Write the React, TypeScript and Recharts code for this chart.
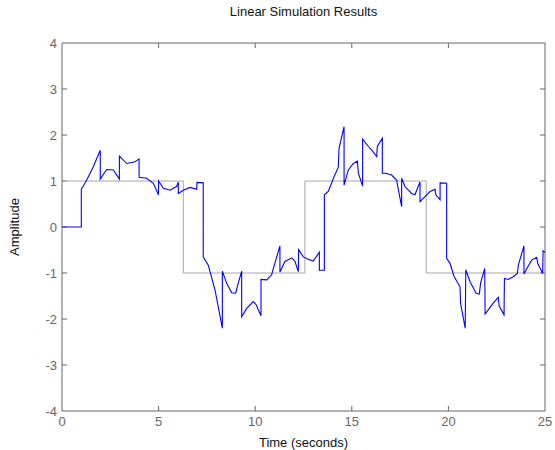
import React from 'react';
import { LineChart, Line, XAxis, YAxis, ReferenceLine } from 'recharts';

// Square-wave input driving the system
const inputTime = [0, 6.28, 6.28, 12.57, 12.57, 18.85, 18.85, 25];
const inputAmp = [1, 1, -1, -1, 1, 1, -1, -1];

// Simulated response, one row per segment between jumps
const responseTime = [
  0, 1,
  1, 1.28, 1.62, 1.98,
  1.98, 2.31, 2.66, 2.97,
  2.97, 3.35, 3.78, 3.99,
  3.99, 4.38, 4.73, 4.99,
  5.0, 5.25, 5.59, 5.93, 6.02,
  6.02, 6.28, 6.63, 6.97,
  6.99, 7.31,
  7.31, 7.57, 7.92, 8.3,
  8.3, 8.52, 8.78, 8.99, 9.07, 9.3,
  9.3, 9.56, 9.9, 10.07, 10.13, 10.3,
  10.3, 10.6, 10.85, 10.94, 11.28,
  11.28, 11.54, 11.89, 12.06, 12.23,
  12.25, 12.49, 12.75, 13.0, 13.32,
  13.32, 13.58,
  13.58, 13.79, 14.05, 14.3, 14.34, 14.6,
  14.6, 14.82, 15.08, 15.29, 15.34, 15.56,
  15.56, 15.86, 16.03, 16.29, 16.32, 16.58,
  16.58, 16.75, 17.06, 17.32, 17.4, 17.58,
  17.58, 17.75, 18.1, 18.27, 18.36, 18.53,
  18.53, 18.79, 19.05, 19.31, 19.35, 19.57,
  19.57, 19.91,
  19.91, 20.08, 20.29, 20.6, 20.63, 20.87,
  20.9, 21.12, 21.3, 21.43, 21.6, 21.67, 21.88,
  21.9, 22.12, 22.29, 22.58, 22.63, 22.88,
  22.9, 23.1, 23.36, 23.57, 23.62, 23.91,
  23.91, 24.09, 24.31, 24.57, 24.63, 24.88,
  24.9, 25.0,
];
const responseAmp = [
  0, 0,
  0.82, 1.02, 1.31, 1.67,
  1.04, 1.25, 1.24, 1.04,
  1.54, 1.38, 1.42, 1.48,
  1.08, 1.06, 0.95, 0.7,
  1.0, 0.84, 0.8, 0.88, 0.98,
  0.73, 0.8, 0.86, 0.82,
  0.97, 0.96,
  -0.65, -0.83, -1.37, -2.2,
  -0.96, -1.22, -1.43, -1.44, -1.3, -0.96,
  -1.95, -1.77, -1.62, -1.7, -1.77, -1.93,
  -1.14, -1.15, -1.04, -0.9, -0.41,
  -0.98, -0.75, -0.67, -0.75, -0.97,
  -0.49, -0.65, -0.7, -0.74, -0.55,
  -0.94, -0.94,
  0.7, 0.78, 1.06, 1.3, 1.71, 2.18,
  0.91, 1.24, 1.38, 1.43, 1.17, 0.89,
  1.91, 1.75, 1.67, 1.53, 1.75, 1.93,
  1.17, 1.17, 1.13, 1.02, 0.84, 0.44,
  1.06, 0.88, 0.73, 0.7, 0.8, 0.98,
  0.55, 0.66, 0.77, 0.82, 0.7, 0.59,
  0.96, 0.95,
  -0.68, -0.79, -1.07, -1.3, -1.66, -2.2,
  -0.93, -1.19, -1.33, -1.44, -1.46, -1.21, -0.9,
  -1.89, -1.77, -1.67, -1.53, -1.72, -1.91,
  -1.12, -1.14, -1.08, -1.01, -0.83, -0.41,
  -1.02, -0.88, -0.72, -0.66, -0.8, -1.01,
  -0.52, -0.55,
];

const timeTicks = [0, 5, 10, 15, 20, 25];
const ampTicks = [-4, -3, -2, -1, 0, 1, 2, 3, 4];

const inputData = inputTime.map((t, i) => ({ t, v: inputAmp[i] }));
const responseData = responseTime.map((t, i) => ({ t, v: responseAmp[i] }));

const T_MIN = 0;
const T_MAX = 25;
const A_MIN = -4;
const A_MAX = 4;

// Inward tick-mark length, in axis units (about 5 px each way)
const X_TICK_LEN = 0.11;
const Y_TICK_LEN = 0.26;

const FONT = '"Liberation Sans", Arial, Helvetica, sans-serif';
const FRAME = '#666666';
const TICK_TEXT = { fill: '#666666', fontSize: 13, fontFamily: FONT };

export default function App() {
  const innerTimeTicks = timeTicks.filter((t) => t > T_MIN && t < T_MAX);
  const innerAmpTicks = ampTicks.filter((a) => a > A_MIN && a < A_MAX);
  return (
    <div
      style={{
        position: 'absolute',
        left: 0,
        top: 0,
        width: 555,
        height: 450,
        background: '#ffffff',
        fontFamily: FONT,
      }}
    >
      <div
        style={{
          position: 'absolute',
          left: 62,
          top: 4,
          width: 483,
          textAlign: 'center',
          fontSize: 13,
          color: '#111',
        }}
      >
        Linear Simulation Results
      </div>
      <LineChart
        width={555}
        height={450}
        margin={{ top: 43, right: 10, bottom: 0, left: 0 }}
      >
        <XAxis
          xAxisId="x"
          dataKey="t"
          type="number"
          domain={[T_MIN, T_MAX]}
          ticks={timeTicks}
          height={39}
          tickLine={false}
          tickSize={4}
          tickMargin={2}
          axisLine={{ stroke: FRAME }}
          tick={TICK_TEXT}
          label={{
            value: 'Time (seconds)',
            position: 'insideBottom',
            offset: 3,
            fill: '#111',
            fontSize: 13,
            fontFamily: FONT,
          }}
        />
        <YAxis
          yAxisId="y"
          type="number"
          domain={[A_MIN, A_MAX]}
          ticks={ampTicks}
          width={62}
          tickLine={false}
          tickSize={3}
          tickMargin={2}
          axisLine={{ stroke: FRAME }}
          tick={TICK_TEXT}
          label={{
            value: 'Amplitude',
            angle: -90,
            position: 'insideLeft',
            offset: 14,
            fill: '#111',
            fontSize: 13,
            fontFamily: FONT,
            style: { textAnchor: 'middle' },
          }}
        />

        {/* top and right sides of the box */}
        <ReferenceLine xAxisId="x" yAxisId="y" y={A_MAX} stroke={FRAME} strokeWidth={1} />
        <ReferenceLine xAxisId="x" yAxisId="y" x={T_MAX} stroke={FRAME} strokeWidth={1} />

        {/* inward tick marks on all four sides */}
        {innerTimeTicks.map((t) => (
          <ReferenceLine
            key={`xb${t}`}
            xAxisId="x"
            yAxisId="y"
            segment={[{ x: t, y: A_MIN }, { x: t, y: A_MIN + X_TICK_LEN }]}
            stroke={FRAME}
          />
        ))}
        {innerTimeTicks.map((t) => (
          <ReferenceLine
            key={`xt${t}`}
            xAxisId="x"
            yAxisId="y"
            segment={[{ x: t, y: A_MAX }, { x: t, y: A_MAX - X_TICK_LEN }]}
            stroke={FRAME}
          />
        ))}
        {innerAmpTicks.map((a) => (
          <ReferenceLine
            key={`yl${a}`}
            xAxisId="x"
            yAxisId="y"
            segment={[{ x: T_MIN, y: a }, { x: T_MIN + Y_TICK_LEN, y: a }]}
            stroke={FRAME}
          />
        ))}
        {innerAmpTicks.map((a) => (
          <ReferenceLine
            key={`yr${a}`}
            xAxisId="x"
            yAxisId="y"
            segment={[{ x: T_MAX, y: a }, { x: T_MAX - Y_TICK_LEN, y: a }]}
            stroke={FRAME}
          />
        ))}

        <Line
          xAxisId="x"
          yAxisId="y"
          data={inputData}
          dataKey="v"
          type="linear"
          stroke="#a8a8a8"
          strokeWidth={1}
          dot={false}
          isAnimationActive={false}
        />
        <Line
          xAxisId="x"
          yAxisId="y"
          data={responseData}
          dataKey="v"
          type="linear"
          stroke="#0000ff"
          strokeWidth={1.1}
          dot={false}
          isAnimationActive={false}
        />
      </LineChart>
    </div>
  );
}
